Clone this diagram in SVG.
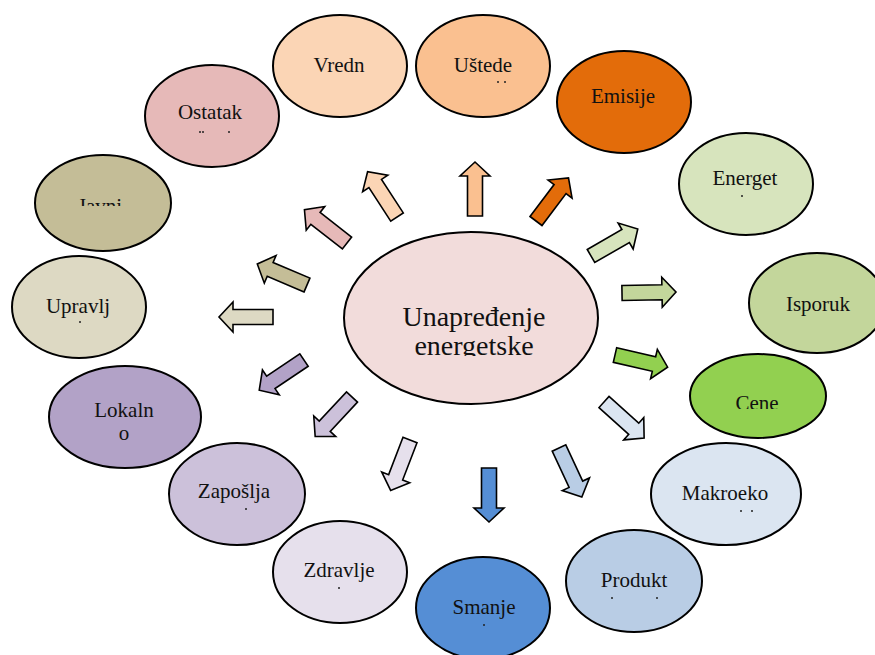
<svg xmlns="http://www.w3.org/2000/svg" width="875" height="655" viewBox="0 0 875 655">
  <style>
    .node { stroke: #000; stroke-width: 2; }
    .arrow { stroke: #000; stroke-width: 1.6; stroke-linejoin: miter; }
    .lbl { font-family: "Liberation Serif", "Times New Roman", serif; font-size: 21px; fill: #111; text-anchor: middle; }
    .big { font-size: 28px; }
    .dot { fill: #222; }
  </style>
  <defs>
    <!-- block arrow pointing along +x, tail at origin -->
    <path id="blk" d="M0,-7.5 H40 V-15 L54,0 L40,15 V7.5 H0 Z"/>
    <clipPath id="cCenter"><rect x="340" y="280" width="260" height="76"/></clipPath>
    <clipPath id="cCene"><rect x="700" y="380" width="120" height="29"/></clipPath>
    <clipPath id="cJavni"><rect x="40" y="180" width="130" height="26"/></clipPath>
  </defs>

  <rect width="875" height="655" fill="#fff"/>

  <g id="connectors">
    <use href="#blk" class="arrow" fill="#FBD5B5" transform="translate(397,217) rotate(-123)"/>
    <use href="#blk" class="arrow" fill="#FAC090" transform="translate(475,216) rotate(-90)"/>
    <use href="#blk" class="arrow" fill="#E36C0A" transform="translate(536,221) rotate(-53)"/>
    <use href="#blk" class="arrow" fill="#D7E4BD" transform="translate(591,256) rotate(-30)"/>
    <use href="#blk" class="arrow" fill="#C3D69B" transform="translate(622,293) rotate(-1)"/>
    <use href="#blk" class="arrow" fill="#92D050" transform="translate(615,355) rotate(13)"/>
    <use href="#blk" class="arrow" fill="#DBE5F1" transform="translate(604,402) rotate(42)"/>
    <use href="#blk" class="arrow" fill="#B9CDE5" transform="translate(559,448) rotate(65)"/>
    <use href="#blk" class="arrow" fill="#558ED5" transform="translate(489,468) rotate(90)"/>
    <use href="#blk" class="arrow" fill="#E6E0EC" transform="translate(410,440) rotate(111)"/>
    <use href="#blk" class="arrow" fill="#CCC1DA" transform="translate(352,397) rotate(133)"/>
    <use href="#blk" class="arrow" fill="#B2A2C7" transform="translate(304,360) rotate(146)"/>
    <use href="#blk" class="arrow" fill="#DDD9C3" transform="translate(273,317) rotate(180)"/>
    <use href="#blk" class="arrow" fill="#C4BD97" transform="translate(307,285) rotate(203)"/>
    <use href="#blk" class="arrow" fill="#E6B9B8" transform="translate(347,243) rotate(218)"/>
  </g>

  <g id="center">
    <ellipse class="node" cx="471" cy="318" rx="127" ry="86" fill="#F2DCDB"/>
    <g clip-path="url(#cCenter)">
      <text class="lbl big" x="474" y="326">Unapređenje</text>
      <text class="lbl big" x="474" y="355">energetske</text>
    </g>
  </g>

  <g id="n-vredn">
    <ellipse class="node" cx="340" cy="66" rx="67" ry="51" fill="#FBD5B5"/>
    <text class="lbl" x="339" y="72">Vredn</text>
  </g>

  <g id="n-ustede">
    <ellipse class="node" cx="483" cy="66" rx="67" ry="51" fill="#FAC090"/>
    <text class="lbl" x="483" y="72">Uštede</text>
    <circle class="dot" cx="498" cy="82" r="1"/>
    <circle class="dot" cx="505" cy="82" r="1"/>
  </g>

  <g id="n-emisije">
    <ellipse class="node" cx="624" cy="102" rx="67" ry="51" fill="#E36C0A"/>
    <text class="lbl" x="623" y="103">Emisije</text>
  </g>

  <g id="n-energet">
    <ellipse class="node" cx="746" cy="184" rx="67" ry="51" fill="#D7E4BD"/>
    <text class="lbl" x="745" y="185">Energet</text>
    <circle class="dot" cx="742" cy="196" r="1"/>
  </g>

  <g id="n-isporuk">
    <ellipse class="node" cx="817" cy="303" rx="68" ry="50" fill="#C3D69B"/>
    <text class="lbl" x="818" y="311">Isporuk</text>
  </g>

  <g id="n-cene">
    <ellipse class="node" cx="758" cy="396" rx="68" ry="42" fill="#92D050"/>
    <g clip-path="url(#cCene)">
      <text class="lbl" x="757" y="410">Cene</text>
    </g>
  </g>

  <g id="n-makroeko">
    <ellipse class="node" cx="726" cy="494" rx="75" ry="51" fill="#DBE5F1"/>
    <text class="lbl" x="725" y="500">Makroeko</text>
    <circle class="dot" cx="741" cy="511" r="1"/>
    <circle class="dot" cx="752" cy="511" r="1"/>
  </g>

  <g id="n-produkt">
    <ellipse class="node" cx="634" cy="581" rx="68" ry="51" fill="#B9CDE5"/>
    <text class="lbl" x="634" y="587">Produkt</text>
    <circle class="dot" cx="612" cy="598" r="1"/>
    <circle class="dot" cx="657" cy="598" r="1"/>
  </g>

  <g id="n-smanje">
    <ellipse class="node" cx="483" cy="608" rx="67" ry="51" fill="#558ED5"/>
    <text class="lbl" x="484" y="614">Smanje</text>
    <circle class="dot" cx="484" cy="625" r="1"/>
  </g>

  <g id="n-zdravlje">
    <ellipse class="node" cx="340" cy="572" rx="67" ry="51" fill="#E6E0EC"/>
    <text class="lbl" x="339" y="577">Zdravlje</text>
    <circle class="dot" cx="339" cy="588" r="1"/>
  </g>

  <g id="n-zaposlja">
    <ellipse class="node" cx="237" cy="494" rx="68" ry="51" fill="#CCC1DA"/>
    <text class="lbl" x="234" y="498">Zapošlja</text>
    <circle class="dot" cx="246" cy="509" r="1"/>
  </g>

  <g id="n-lokalno">
    <ellipse class="node" cx="125" cy="417" rx="76" ry="51" fill="#B2A2C7"/>
    <text class="lbl" x="124" y="417">Lokaln</text>
    <text class="lbl" x="124" y="440">o</text>
  </g>

  <g id="n-upravlj">
    <ellipse class="node" cx="79" cy="307" rx="67" ry="51" fill="#DDD9C3"/>
    <text class="lbl" x="78" y="313">Upravlj</text>
    <circle class="dot" cx="80" cy="322" r="1"/>
  </g>

  <g id="n-javni">
    <ellipse class="node" cx="103" cy="203" rx="68" ry="48" fill="#C4BD97"/>
    <g clip-path="url(#cJavni)">
      <text class="lbl" x="100" y="213">Javni</text>
    </g>
  </g>

  <g id="n-ostatak">
    <ellipse class="node" cx="212" cy="116" rx="67" ry="51" fill="#E6B9B8"/>
    <text class="lbl" x="210" y="119">Ostatak</text>
    <circle class="dot" cx="200" cy="132" r="1"/>
    <circle class="dot" cx="203" cy="132" r="1"/>
    <circle class="dot" cx="229" cy="132" r="1"/>
  </g>
</svg>
